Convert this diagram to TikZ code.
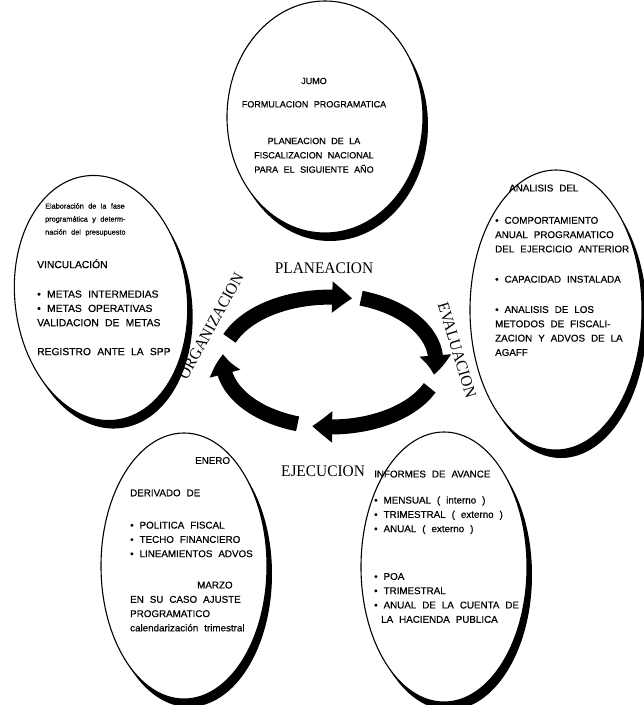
\documentclass[tikz,border=0pt]{standalone}
\usepackage{fontspec}
\setmainfont{Liberation Serif}
\newfontfamily\ellfont[WordSpace=2.2,FakeBold=0.4]{Liberation Sans}
\newfontfamily\cycfont[FakeStretch=0.95]{Liberation Serif}
\usetikzlibrary{shapes.geometric,arrows.meta,bending}

\begin{document}
\begin{tikzpicture}[x=1pt,y=-1pt,
  bubble/.style={ellipse, draw=black, line width=1.1pt, fill=white, inner sep=0pt},
  bubbleshadow/.style={ellipse, fill=black, inner sep=0pt},
  bubbletext/.style={inner sep=0pt, align=left, font=\ellfont\fontsize{9.8}{14.3}\selectfont},
  phase/.style={inner sep=0pt, font=\cycfont\fontsize{16.2}{18}\selectfont},
  cyclearrow/.style={line width=15pt, -{Triangle[width=30pt,length=20pt,bend]}}]

\useasboundingbox (0,0) rectangle (644,705);
\fill[white] (0,0) rectangle (644,705);

% ---- the five stage ellipses, each with a dark lower-right shadow ----
\foreach \cx/\cy/\w/\h/\tilt/\nm in {325/117/196/232/0/top, 101/298/172/246/7/left, 556/310/172/280/0/right, 184/566/166/266/0/bl, 444/567/166/270/0/br}{
  \node[bubbleshadow, rotate=\tilt, minimum width=\w pt, minimum height=\h pt] at (\cx+5,\cy+8) {};
  \node[bubble, rotate=\tilt, minimum width=\w pt, minimum height=\h pt] (\nm) at (\cx,\cy) {};
}

% ---- texts inside the ellipses ----
\node[bubbletext, align=center, anchor=north, font=\ellfont\fontsize{9}{14.3}\selectfont] (toptext) at (314,77.6) {%
  JUMO\\[9pt]
  FORMULACION PROGRAMATICA\\[22.4pt]
  PLANEACION DE LA\\
  FISCALIZACION NACIONAL\\
  PARA EL SIGUIENTE AÑO};

\node[bubbletext, anchor=north west, font=\ellfont\fontsize{7.3}{13}\selectfont] (lefthead) at (45,203) {%
  Elaboración de la fase\\
  programática y determ-\\
  nación del presupuesto};

\node[bubbletext, anchor=north west, font=\ellfont\fontsize{10.3}{14.3}\selectfont] (lefttext) at (37,259) {%
  VINCULACIÓN\\[15.2pt]
  • METAS INTERMEDIAS\\
  • METAS OPERATIVAS\\
  VALIDACION DE METAS\\[14.6pt]
  REGISTRO ANTE LA SPP};

\node[bubbletext, anchor=north west] (righttext) at (495,184.4) {%
  \hspace*{14pt}ANALISIS DEL\\[18pt]
  • COMPORTAMIENTO\\
  ANUAL PROGRAMATICO\\
  DEL EJERCICIO ANTERIOR\\[16pt]
  • CAPACIDAD INSTALADA\\[16pt]
  • ANALISIS DE LOS\\
  METODOS DE FISCALI-\\
  ZACION Y ADVOS DE LA\\
  AGAFF};

\node[bubbletext, anchor=north west] (bltext) at (130,456.9) {%
  \hspace*{65pt}ENERO\\[18pt]
  DERIVADO DE\\[18pt]
  • POLITICA FISCAL\\
  • TECHO FINANCIERO\\
  • LINEAMIENTOS ADVOS\\[17pt]
  \hspace*{67pt}MARZO\\
  EN SU CASO AJUSTE\\
  PROGRAMATICO\\
  calendarización trimestral};

\node[bubbletext, anchor=north west] (brtext) at (374,470.4) {%
  INFORMES DE AVANCE\\[11.8pt]
  • MENSUAL ( interno )\\
  • TRIMESTRAL ( externo )\\
  • ANUAL ( externo )\\[33.4pt]
  • POA\\
  • TRIMESTRAL\\
  • ANUAL DE LA CUENTA DE\\
  \hspace*{7pt}LA HACIENDA PUBLICA};

% ---- central cycle of four curved arrows (clockwise) ----
\coordinate (cyc) at (331,361);
\coordinate (topstart) at (229.5,338.4);
\coordinate (rightstart) at (361.1,298.2);
\coordinate (bottomstart) at (429.7,387.8);
\coordinate (leftstart) at (297.6,423.8);
\draw[cyclearrow] (topstart) arc[start angle=202, end angle=282, x radius=108, y radius=66];
\draw[cyclearrow] (rightstart) arc[start angle=288, end angle=372, x radius=108, y radius=66];
\draw[cyclearrow] (bottomstart) arc[start angle=24, end angle=100, x radius=108, y radius=66];
\draw[cyclearrow] (leftstart) arc[start angle=108, end angle=186, x radius=108, y radius=66];

% ---- phase names around the cycle ----
\node[phase] (plan) at (324,268) {PLANEACION};
\node[phase, rotate=-73] (eval) at (457,350) {EVALUACION};
\node[phase] (ejec) at (323,471) {EJECUCION};
\node[phase, rotate=61] (org) at (211,326) {ORGANIZACION};
\end{tikzpicture}
\end{document}
